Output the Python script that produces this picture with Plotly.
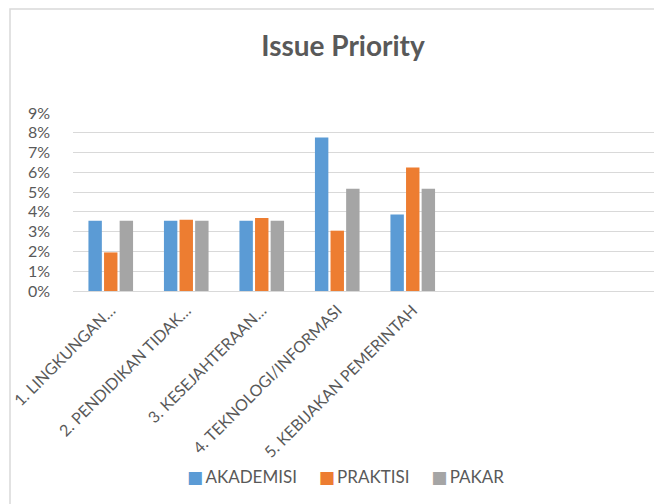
import plotly.graph_objects as go

categories = ["1. LINGKUNGAN…", "2. PENDIDIKAN TIDAK…", "3. KESEJAHTERAAN…",
              "4. TEKNOLOGI/INFORMASI", "5. KEBIJAKAN PEMERINTAH"]
series_names = ["AKADEMISI", "PRAKTISI", "PAKAR"]
akademisi = [0.0355, 0.0355, 0.0355, 0.0776, 0.0387]
praktisi = [0.0195, 0.0360, 0.0369, 0.0305, 0.0625]
pakar = [0.0355, 0.0355, 0.0355, 0.0517, 0.0517]
colors = ["#5B9BD5", "#ED7D31", "#A5A5A5"]

OFF = 8  # page body margin
W, H = 662 - OFF, 504 - OFF
ML, MR, MT, MB = 73 - OFF, 0, 113 - OFF, 504 - 291
FONT = "Lato"
TXT = "#595959"

fig = go.Figure()
for name, vals, col in zip(series_names, [akademisi, praktisi, pakar], colors):
    fig.add_trace(go.Bar(x=categories, y=vals, name=name, marker=dict(color=col, line=dict(width=0))))

pw = W - ML - MR
ph = H - MT - MB
def px_x(px):
    return (px - OFF - ML) / pw
def px_y(py):
    return (H - MB - (py - OFF)) / ph

legend_text = ("&nbsp;" * 5).join(
    f"<span style='color:{c};font-size:17px;font-family:DejaVu Sans'>■</span>"
    f"<span style='font-size:9px'>&nbsp;</span>{n}"
    for n, c in zip(series_names, colors))

fig.update_layout(
    width=W, height=H,
    margin=dict(l=ML, r=MR, t=MT, b=MB, pad=0, autoexpand=False),
    paper_bgcolor="white", plot_bgcolor="white",
    font=dict(family=FONT, color=TXT, size=15),
    title=dict(text="<b>Issue Priority</b>", x=(343 - OFF) / W, xref="container", xanchor="center",
               y=1 - (46 - OFF) / H, yref="container", yanchor="middle",
               font=dict(family=FONT, size=28, color=TXT)),
    barmode="group", bargap=0.38, bargroupgap=0.14,
    xaxis=dict(range=[-0.5, -0.5 + pw / 75.5], showgrid=False, automargin=False,
               showline=False, ticks="", tickangle=-45, ticklabelstandoff=6,
               tickfont=dict(family=FONT, size=16, color=TXT)),
    yaxis=dict(range=[0, 0.09], dtick=0.01, tickformat=".0%", showgrid=True, automargin=False,
               gridcolor="#D9D9D9", gridwidth=1, zeroline=True, zerolinecolor="#D9D9D9",
               zerolinewidth=1, showline=False, ticks="", ticklabelstandoff=22,
               tickfont=dict(family=FONT, size=16, color=TXT)),
    showlegend=False,
    annotations=[dict(text=legend_text, xref="paper", yref="paper",
                      x=px_x(345), y=px_y(476), xanchor="center", yanchor="middle",
                      showarrow=False, font=dict(family=FONT, size=17, color=TXT))],
    shapes=[dict(type="rect", xref="paper", yref="paper",
                 x0=px_x(10), x1=px_x(700), y0=px_y(540), y1=px_y(9),
                 line=dict(color="#D9D9D9", width=1.5), fillcolor="rgba(0,0,0,0)",
                 layer="below")],
)

fig.write_html("out.html")
